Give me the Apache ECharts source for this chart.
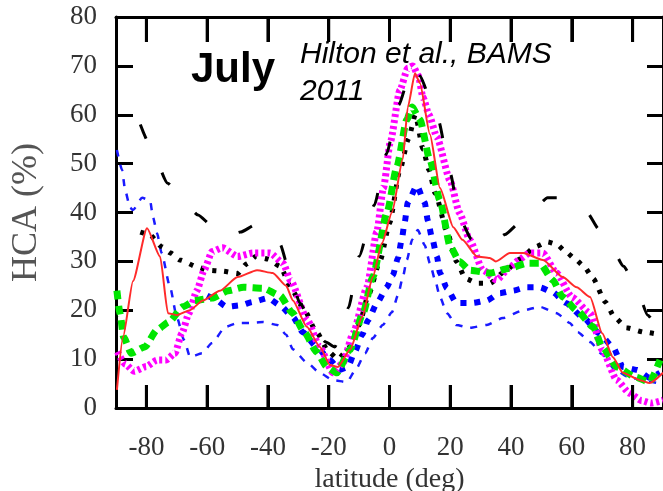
<!DOCTYPE html>
<html>
<head>
<meta charset="utf-8">
<script src="https://cdn.jsdelivr.net/npm/echarts@6/dist/echarts.min.js"></script>
<style>html,body{margin:0;padding:0;background:#fff}#c{width:663px;height:491px}</style>
</head>
<body>
<div id="c"></div>
<script>
// ---- data ----
var xTicks = [-80, -60, -40, -20, 0, 20, 40, 60, 80];
// inward tick length expressed in axis units (bottom frame, top frame)
var tickLenBottom = 4.7;
var tickLenTop = 5.1;

var blackDashLat = [-82, -79, -73, -68, -63, -58, -54, -49, -44, -40, -36, -33, -29.5, -25, -21, -18, -15.5, -13.5, -10, -5, -1, 3, 7.5, 10, 13, 16, 20, 23, 27, 33, 38, 43, 48, 52, 56, 60, 65, 69, 73, 77, 81, 85, 89];
var blackDashVal = [58, 54, 46, 42.5, 39.5, 37, 35, 36, 37.5, 36.5, 33.5, 28, 21.5, 16.5, 13.5, 12.5, 16, 20.5, 31, 41.5, 52, 62, 70, 68, 64, 59, 48, 39, 34.5, 33, 35.5, 38, 41, 43, 43, 42, 40, 36.5, 33, 29, 25, 19, 15];

var blackDotLat = [-82, -79, -75, -72, -69, -63, -60, -55, -50, -47, -44, -40, -36, -32, -28, -24, -20, -17, -13, -10, -7, -3, 0, 3.4, 6.2, 8.5, 11, 13, 15, 19, 22, 25, 29, 33, 38, 43, 48, 52, 55, 58, 61, 64, 67, 71, 74, 78, 84, 89];
var blackDotVal = [36, 35.5, 33, 31.7, 30.3, 28.8, 28.2, 28, 27.5, 29.5, 31, 30.5, 29, 24, 20, 15.5, 11.5, 10, 12.5, 17, 23, 30.3, 37.8, 48.6, 55, 60, 53, 48.7, 44, 36, 30, 26.5, 25.5, 25.5, 28, 30.5, 33, 34, 33.5, 32, 30.5, 29, 26.5, 21.7, 18.6, 16.4, 15.5, 15];

var redLat = [-89.7, -87.7, -84.4, -79.8, -75.5, -72.9, -70, -65.7, -61.4, -55.8, -50, -43.6, -38.4, -34, -31.8, -27.2, -22.9, -19.6, -17, -13, -9, -5.5, -2.5, 0.8, 4.4, 6, 8.4, 10, 13.3, 16.6, 21, 24, 28.8, 33, 35, 39.6, 44, 50.5, 57, 61.6, 66, 70, 73.5, 76.8, 82.4, 85.6, 90];
var redVal = [3.7, 14.5, 26, 36.8, 31, 19.4, 19, 20, 22, 24, 26.8, 28.2, 27.6, 25, 22, 16.6, 12.5, 8.8, 8.4, 11.9, 18.6, 26.8, 33.7, 40, 51, 61.5, 68.5, 66.5, 56, 45, 37, 34.4, 31, 30.7, 30, 31.7, 31.7, 30.3, 26.8, 24.7, 22.7, 15.3, 10.4, 7.2, 5.7, 5.1, 7.2];

var magentaLat = [-89.5, -87, -84, -80, -76.5, -73.5, -70.6, -68.3, -66, -63.4, -61, -58.4, -55, -50, -45, -39.3, -35, -32.5, -27, -23, -18.6, -15.3, -12, -7.4, -4.2, -2, 0.3, 3.4, 6, 7.7, 9.5, 11, 13, 15.6, 19.9, 23, 26.4, 30.7, 35.3, 39.6, 43, 46, 50.5, 55, 60, 66, 70, 74.8, 79, 83, 86, 90];
var magentaVal = [11.5, 9, 7.5, 8.5, 9.8, 9.8, 11.2, 15.3, 19.4, 24, 28.2, 32, 32.8, 31, 31.7, 31.7, 29.6, 26, 18, 12.5, 7.2, 9.2, 15.3, 24.7, 36, 45, 54.5, 65, 69.5, 70, 68, 63.6, 60, 55.4, 46.6, 40, 34.4, 28.2, 26.2, 28.8, 30.5, 31.7, 31.7, 27.6, 22.7, 19.4, 11.9, 5.7, 3, 1.5, 1, 1.6];

var greenLat = [-89.7, -88.7, -87.5, -85, -80.5, -76.5, -72.6, -68, -64, -58.4, -53, -48, -41.6, -36, -32, -28, -24, -20.6, -17.3, -13, -8.7, -5.5, -0.8, 2.4, 5.7, 7.4, 10, 13.3, 16.6, 20, 23, 26.4, 33, 39.6, 45, 49.5, 53.7, 57, 61.6, 67, 70, 74.8, 81, 85.6, 89];
var greenVal = [24, 19.4, 14.5, 11.2, 12.5, 16, 17.6, 20.7, 22, 22.5, 24, 24.7, 24.5, 23, 19.5, 15.5, 11.5, 8.4, 7.2, 11.9, 19.4, 26.8, 40, 49.3, 59, 61.6, 59, 50.7, 42.5, 33, 30, 28.2, 27.6, 28.6, 29.6, 29.6, 26.2, 22.7, 20, 16.6, 12.5, 8.4, 6.3, 5.3, 9.8];

var blueThickLat = [-60, -58, -53.5, -49, -45, -40, -36, -31.8, -28.5, -24, -19.6, -16.5, -13.7, -11.4, -9, -7, -4.1, -0.9, 1.1, 2.8, 4, 5, 6, 9, 11.6, 12.6, 14, 15.6, 16.6, 18.9, 22, 27.4, 32, 36.3, 40.6, 45, 49.5, 53.7, 58, 63.6, 69, 73.5, 76.8, 81.4, 85.6, 89];
var blueThickVal = [23, 22.5, 20.7, 21, 21.7, 22.5, 21, 18.6, 15.5, 12.5, 9.8, 7.8, 8.4, 11.5, 15, 18, 21.5, 24.7, 27.2, 30.7, 34.4, 38, 42, 45.5, 42, 38.4, 34.8, 31, 27.6, 24.5, 21.5, 21.5, 22, 23.5, 24, 24.7, 24.7, 23.7, 21.5, 18.6, 15.3, 12.5, 8.4, 7.8, 6.2, 7.2];

var blueThinLat = [-89.7, -88, -87, -85.4, -84.4, -81.4, -78.8, -77.8, -76.5, -75, -72.2, -70, -67.6, -65.6, -61.7, -58.4, -54, -50, -46, -41.6, -37, -34, -31.8, -27, -23, -18.6, -14, -11, -8, -5.5, -2.2, 0.8, 2.8, 4.4, 5.7, 7.5, 9.3, 11.6, 13.3, 15, 16.6, 18.9, 22, 26.4, 32, 37.3, 44, 49.5, 55, 59.3, 62, 66, 70, 74, 78, 84, 89];
var blueThinVal = [52.8, 48.7, 44.6, 41, 40.5, 43, 42.5, 39, 35.8, 31.7, 24.7, 18.6, 13.9, 10.4, 11.2, 13.3, 16.6, 17.4, 17.4, 17.6, 17, 15, 12, 9.2, 7.2, 5.7, 5.3, 8, 11.2, 14.3, 17, 19.6, 23.1, 26.8, 30.3, 34.5, 36.4, 33.3, 29.6, 26.2, 22.7, 19.4, 17, 16.4, 17, 18.4, 20, 20.7, 19.4, 17.4, 15.5, 13.5, 11, 8, 6.5, 5.5, 5];

function pairs(a, b) { return a.map(function (x, i) { return [x, b[i]]; }); }

var chart = echarts.init(document.getElementById('c'), null, { renderer: 'canvas' });
var serif = 'Liberation Serif, Times New Roman, serif';
var sans = 'Liberation Sans, Arial, sans-serif';

function ln(name, lat, val, color, width, type, z) {
  return {
    name: name, type: 'line', xAxisIndex: 0, yAxisIndex: 0, data: pairs(lat, val), showSymbol: false,
    smooth: 0.2, smoothMonotone: 'x',
    lineStyle: { color: color, width: width, type: type, cap: 'butt' }, z: z, silent: true
  };
}

// x tick marks on the bottom and top frame, as short segments in axis units
var tickMarkData = [];
var tickLineData = [];
xTicks.forEach(function (v) {
  tickMarkData.push([{ coord: [v, 0] }, { coord: [v, tickLenBottom] }]);
  tickMarkData.push([{ coord: [v, 80] }, { coord: [v, 80 - tickLenTop] }]);
  tickLineData.push([v, 0], [v, tickLenBottom], [v, '-'], [v, 80], [v, 80 - tickLenTop], [v, '-']);
});

var tickSeries = {
  name: 'xticks', type: 'line', xAxisIndex: 0, yAxisIndex: 0, silent: true, z: 20,
  data: tickLineData, showSymbol: false, connectNulls: false, smooth: false, clip: false,
  lineStyle: { color: '#000', width: 3, type: 'solid', cap: 'butt' },
  markLine: {
    silent: true, symbol: ['none', 'none'], animation: false, label: { show: false },
    lineStyle: { color: '#000', width: 3, type: 'solid' },
    data: tickMarkData
  }
};

chart.setOption({
  animation: false,
  backgroundColor: '#fff',
  grid: { left: 116, right: 0, top: 17, bottom: 83, outerBoundsMode: 'none' },
  xAxis: [{
    type: 'value', position: 'bottom', min: -90, max: 90,
    axisLine: { onZero: false, lineStyle: { color: '#000', width: 3 } },
    axisTick: { show: false },
    axisLabel: { customValues: xTicks, fontFamily: serif, fontSize: 27, color: '#333', margin: 26 },
    splitLine: { show: false },
    name: 'latitude (deg)', nameLocation: 'middle', nameGap: 48,
    nameTextStyle: { fontFamily: serif, fontSize: 28, color: '#333' }
  }, {
    type: 'value', position: 'top', min: -90, max: 90,
    axisLine: { onZero: false, lineStyle: { color: '#000', width: 3 } },
    axisTick: { show: false }, axisLabel: { show: false }, splitLine: { show: false }
  }],
  yAxis: [{
    type: 'value', position: 'left', min: 0, max: 80, interval: 10,
    axisLine: { show: true, onZero: false, lineStyle: { color: '#000', width: 3 } },
    axisTick: { show: true, inside: true, length: 17, lineStyle: { color: '#000', width: 3 } },
    axisLabel: { fontFamily: serif, fontSize: 27, color: '#333', margin: 19 },
    splitLine: { show: false },
    name: 'HCA (%)', nameLocation: 'middle', nameGap: 71, nameRotate: 90,
    nameTextStyle: { fontFamily: serif, fontSize: 36, color: '#555' }
  }, {
    type: 'value', position: 'right', min: 0, max: 80, interval: 10,
    axisLine: { show: true, onZero: false, lineStyle: { color: '#000', width: 3 } },
    axisTick: { show: true, inside: true, length: 16, lineStyle: { color: '#000', width: 3 } },
    axisLabel: { show: false }, splitLine: { show: false }
  }],
  series: [
    ln('blueThin', blueThinLat, blueThinVal, '#1a1aff', 2.5, [7, 8], 2),
    ln('blueThick', blueThickLat, blueThickVal, '#0000ff', 6, [6, 8], 3),
    ln('blackDot', blackDotLat, blackDotVal, '#000', 5, [4, 8], 4),
    ln('magenta', magentaLat, magentaVal, '#ff00ff', 7, [3, 3], 5),
    ln('green', greenLat, greenVal, '#00e600', 7, [9, 6], 6),
    ln('blackDash', blackDashLat, blackDashVal, '#000', 3, [15, 38], 7),
    ln('red', redLat, redVal, '#ff2a2a', 2, 'solid', 8),
    tickSeries
  ],
  graphic: [
    { type: 'text', z: 100, style: { text: 'July', x: 191, y: 70, font: 'bold 42px ' + sans, fill: '#000', align: 'left', verticalAlign: 'middle' } },
    { type: 'text', z: 100, style: { text: 'Hilton et al., BAMS', x: 300, y: 55, font: 'italic 30px ' + sans, fill: '#000', align: 'left', verticalAlign: 'middle' } },
    { type: 'text', z: 100, style: { text: '2011', x: 300, y: 92, font: 'italic 30px ' + sans, fill: '#000', align: 'left', verticalAlign: 'middle' } }
  ]
});
</script>
</body>
</html>
